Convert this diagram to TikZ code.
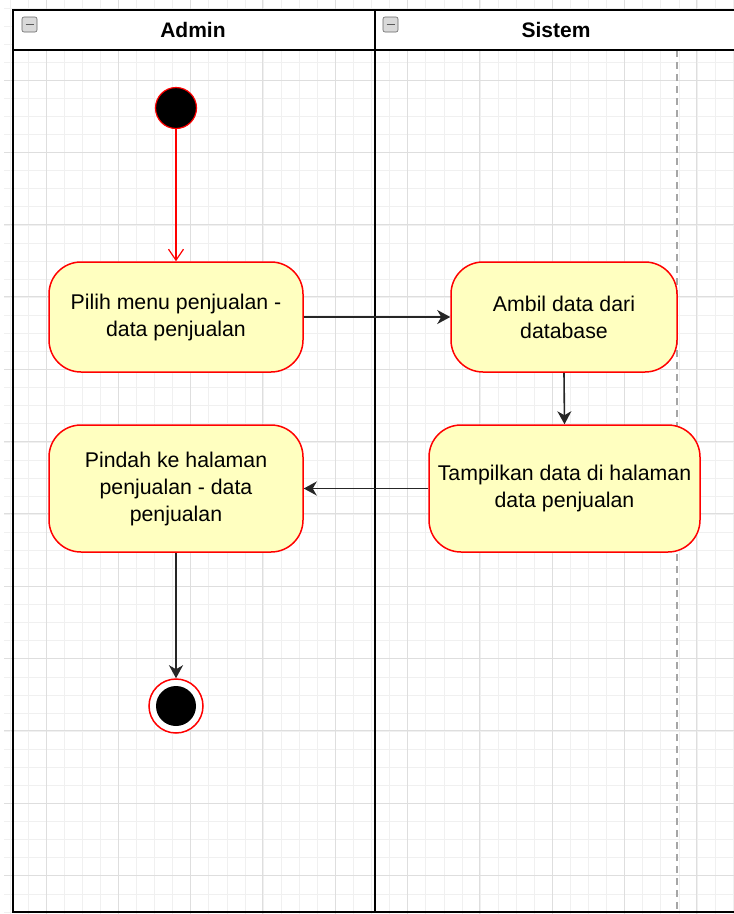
\documentclass[tikz,border=0pt]{standalone}
\usepackage{fontspec}
\setmainfont{Liberation Sans}
\usetikzlibrary{arrows.meta}
\definecolor{actfill}{HTML}{FFFFC0}
\definecolor{actred}{HTML}{FF0000}
\definecolor{gridminor}{HTML}{F0F0F0}
\definecolor{gridmajor}{HTML}{DEDEDE}
\begin{document}
\begin{tikzpicture}[x=1pt,y=-1pt,
  act/.style={draw=actred, line width=1.5pt, fill=actfill, rounded corners=32pt,
    align=center, font=\fontsize{21.3}{27}\selectfont, inner sep=0pt},
  flow/.style={draw=black!85, line width=1.6pt, -{Stealth[length=13pt,width=14pt,inset=4pt]}},
  redflow/.style={draw=actred, line width=1.1pt, -{Straight Barb[length=11pt,width=15pt,line width=1.2pt]}},
  lane/.style={draw=black, line width=1.8pt},
  hdr/.style={font=\fontsize{21}{25}\selectfont\bfseries},
  icon/.style={draw=gray!80!black, fill=gray!30, rounded corners=2pt, line width=0.6pt}
]
\useasboundingbox (0,0) rectangle (734,914);
\fill[white] (0,0) rectangle (734,914);
% grid
\foreach \i in {0,...,40} {\draw[gridminor, line width=0.8pt] ({10+18.08*\i},0) -- ({10+18.08*\i},914);}
\foreach \i in {0,...,50} {\draw[gridminor, line width=0.8pt] (4,{8+18.08*\i}) -- (734,{8+18.08*\i});}
\foreach \i in {0,...,9} {\draw[gridmajor, line width=1pt] ({46+72.33*\i},0) -- ({46+72.33*\i},914);}
\foreach \i in {0,...,11} {\draw[gridmajor, line width=1pt] (4,{80+72.33*\i}) -- (734,{80+72.33*\i});}
% header
\fill[white] (13,10) rectangle (740,50);
\draw[gray!70, dashed, line width=1.5pt, dash pattern=on 7pt off 5pt] (677,50) -- (677,912);
\draw[lane] (740,10) -- (13,10) -- (13,912) -- (740,912);
\draw[lane] (13,50) -- (740,50);
\draw[lane] (375,10) -- (375,912);
\node[hdr] (hadmin) at (193,30) {Admin};
\node[hdr] (hsistem) at (556,30) {Sistem};
\draw[icon] (22,17) rectangle (37,32);
\draw[line width=1.5pt, black!65] (25.5,24.5) -- (33.5,24.5);
\draw[icon] (383,17) rectangle (398,32);
\draw[line width=1.5pt, black!65] (386.5,24.5) -- (394.5,24.5);
% nodes
\node[circle, fill=black, draw=actred, line width=1.2pt, minimum size=41pt, inner sep=0pt] (start) at (176,108) {};
\node[act, minimum width=254pt, minimum height=110pt] (n1) at (176,317) {Pilih menu penjualan -\\data penjualan};
\node[act, minimum width=226pt, minimum height=110pt] (n2) at (564,317) {Ambil data dari\\database};
\node[act, minimum width=271pt, minimum height=127pt] (n3) at (564.5,488.5) {Tampilkan data di halaman\\data penjualan};
\node[act, minimum width=254pt, minimum height=127pt] (n4) at (176,488.5) {Pindah ke halaman\\penjualan - data\\penjualan};
\node[circle, draw=actred, line width=1.5pt, fill=white, minimum size=54pt, inner sep=0pt] (end) at (176,706) {};
\node[circle, fill=black, minimum size=40pt, inner sep=0pt] (endin) at (end.center) {};
% connectors
\draw[redflow] (start) -- (n1.north);
\draw[flow] (n1.east) -- (n2.west);
\draw[flow] (n2.south) -- (n3.north);
\draw[flow] (n3.west) -- (n4.east);
\draw[flow] (n4.south) -- (end.north);
\end{tikzpicture}
\end{document}
